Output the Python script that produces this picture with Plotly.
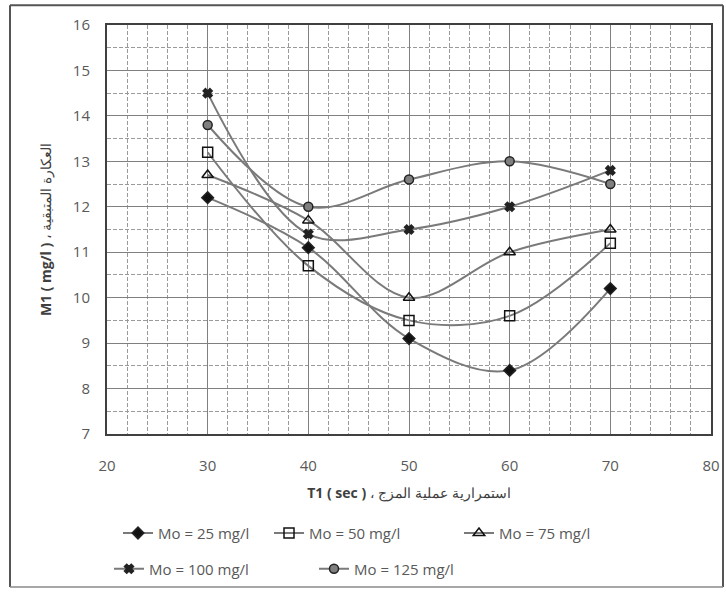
import plotly.graph_objects as go

t1 = [30, 40, 50, 60, 70]
mo25 = [12.2, 11.1, 9.1, 8.4, 10.2]
mo50 = [13.2, 10.7, 9.5, 9.6, 11.2]
mo75 = [12.7, 11.7, 10.0, 11.0, 11.5]
mo100 = [14.5, 11.4, 11.5, 12.0, 12.8]
mo125 = [13.8, 12.0, 12.6, 13.0, 12.5]

names = ["Mo = 25 mg/l", "Mo = 50 mg/l", "Mo = 75 mg/l", "Mo = 100 mg/l", "Mo = 125 mg/l"]
series = [mo25, mo50, mo75, mo100, mo125]
symbols = ["diamond", "square-open", "triangle-up-open", "x", "circle"]
sizes = [9, 10, 10, 8, 9]
mcolors = ["#111111", "#111111", "#111111", "#222222", "#7f7f7f"]
legend_ids = ["legend", "legend2", "legend3", "legend4", "legend5"]

FONT = "Open Sans, Noto Sans, sans-serif"
fig = go.Figure()
for nm, ys, sym, sz, mc, lg in zip(names, series, symbols, sizes, mcolors, legend_ids):
    fig.add_trace(go.Scatter(
        x=t1, y=ys, name=nm, mode="lines+markers",
        line=dict(color="#7a7a7a", width=2, shape="spline", smoothing=1.0),
        marker=dict(symbol=sym, size=sz, color=mc,
                    line=dict(color="#222222", width=1.5)),
        legend=lg,
    ))

axis_common = dict(
    showline=True, mirror=True, linecolor="#404040", linewidth=2,
    gridcolor="#808080", gridwidth=1.2,
    ticks="", zeroline=False, automargin=False,
    tickfont=dict(family=FONT, size=15, color="#595959"),
)
fig.update_xaxes(range=[20, 80], dtick=10, tick0=20, ticklabelstandoff=17,
                 minor=dict(dtick=2, showgrid=True, gridcolor="#9a9a9a",
                            griddash="4px,2px", gridwidth=1),
                 title=dict(text="<b>T1 ( sec )</b> ، استمرارية عملية المزج",
                            font=dict(family=FONT, size=14, color="#404040"),
                            standoff=14),
                 **axis_common)
fig.update_yaxes(range=[7, 16], dtick=1, ticklabelstandoff=12,
                 minor=dict(dtick=0.5, showgrid=True, gridcolor="#9a9a9a",
                            griddash="4px,2px", gridwidth=1),
                 title=dict(text="<b>M1 ( mg/l )</b> ، العكارة المتبقية",
                            font=dict(family=FONT, size=14, color="#404040"),
                            standoff=18),
                 **axis_common)

legend_font = dict(family=FONT, size=15, color="#595959")
L, W = 107, 604
B, H = 437, 412
def px_x(p):
    return (p - L) / W
def px_y(p):
    return (B - p) / H

leg_pos = [(118, 537), (269, 537), (459, 537), (109, 573), (314, 573)]
leg_layout = {}
for lg, (lx, ly) in zip(legend_ids, leg_pos):
    leg_layout[lg] = dict(orientation="h", x=px_x(lx), xanchor="left",
                          y=px_y(ly), yanchor="middle",
                          font=legend_font, bgcolor="rgba(0,0,0,0)", itemwidth=30)

frame = dict(color="#555555", width=2)
fig.update_layout(
    width=726, height=597,
    margin=dict(l=L, r=726 - L - W, t=B - H, b=597 - B),
    paper_bgcolor="white", plot_bgcolor="white",
    font=dict(family=FONT),
    showlegend=True,
    shapes=[
        dict(type="line", xref="paper", yref="paper", layer="above",
             x0=px_x(10), x1=px_x(723), y0=px_y(5), y1=px_y(5), line=frame),
        dict(type="line", xref="paper", yref="paper", layer="above",
             x0=px_x(10), x1=px_x(10), y0=px_y(5), y1=px_y(591), line=frame),
        dict(type="line", xref="paper", yref="paper", layer="above",
             x0=px_x(723), x1=px_x(723), y0=px_y(5), y1=px_y(591), line=frame),
        dict(type="line", xref="paper", yref="paper", layer="above",
             x0=px_x(10), x1=px_x(723), y0=px_y(591), y1=px_y(591),
             line=dict(color="#8a8a8a", width=1.5)),
    ],
    **leg_layout,
)

fig.write_html("out.html",
               config={"displayModeBar": False},
               post_script="document.body.style.margin='0';document.body.style.padding='0';")
